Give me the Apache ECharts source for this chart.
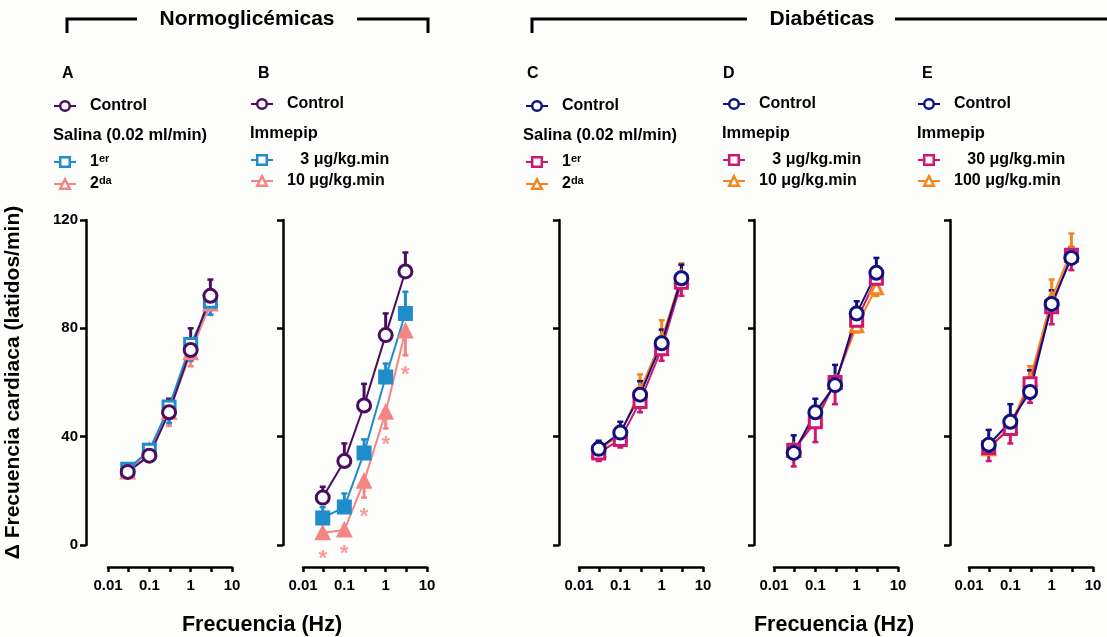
<!DOCTYPE html>
<html>
<head>
<meta charset="utf-8">
<script src="https://cdn.jsdelivr.net/npm/echarts@6/dist/echarts.min.js"></script>
<style>
html, body { margin: 0; background: #fdfdfb; }
#chart { width: 1107px; height: 637px; }
</style>
</head>
<body>
<div id="chart"></div>
<script>
// frecuencias de estimulación (Hz)
const freq = [0.03, 0.1, 0.3, 1, 3];

// A - normoglicémicas, salina
const aControl = [27, 33, 49, 72, 92];
const aControlErr = [2, 3, 5, 8, 6];
const aFirst = [28, 35, 51, 74, 90];
const aFirstErr = [2, 3, 6, 6, 5];
const aSecond = [27, 35, 49, 71, 89];
const aSecondErr = [2, 3, 5, 5, 4];

// B - normoglicémicas, immepip
const bControl = [17.5, 31, 51.5, 77.5, 101];
const bControlErr = [4, 6.5, 8, 8, 7];
const bLow = [10, 14, 34, 62, 85.5];
const bLowErr = [4, 5, 5, 5, 8];
const bHigh = [4.5, 5.5, 23.5, 49, 79];
const bHighErr = [2, 2, 6, 6, 9];
const bStars = [-3.3, -1.5, 12.3, 38.8, 64.6];

// C - diabéticas, salina
const cControl = [35.5, 41.5, 55.5, 74.5, 98.5];
const cControlErr = [3, 4, 5, 5, 5];
const cFirst = [34, 39, 53, 72.5, 97];
const cFirstErr = [3, 3, 4, 4.5, 5];
const cSecond = [35, 41, 57, 76, 99];
const cSecondErr = [3, 3, 6, 7, 5];

// D - diabéticas, immepip 3 / 10
const dControl = [34, 49, 59, 85.5, 100.5];
const dControlErr = [6.5, 5, 7.5, 4.5, 5.5];
const dLow = [35, 45.5, 60, 83, 98.5];
const dLowErr = [6, 7.5, 8, 2, 2];
const dHigh = [35, 47, 60, 81, 95];
const dHighErr = [3, 3, 3, 2.5, 3];

// E - diabéticas, immepip 30 / 100
const eControl = [37, 45.5, 56.5, 89, 106];
const eControlErr = [5.5, 6.5, 8, 5, 4];
const eLow = [36, 43, 59.5, 88, 107];
const eLowErr = [5, 5.5, 7, 6.5, 5.5];
const eHigh = [35.5, 44, 61, 91, 108.5];
const eHighErr = [3, 4, 5, 7, 6.5];

const FONT = "'Liberation Sans', Arial, Helvetica, sans-serif";
const PURPLE = '#4a0d5f', BLUE = '#1f8ccb', PINK = '#f48585';
const NAVY = '#10107e', MAGENTA = '#d0176f', ORANGE = '#f5861f';

const panels = [
  { axisX: 86, left: 108, legendX: 53, rows: [107, 162], groups: [
    { name: 'A-2', label: '{t|2}{sup|da}', data: aSecond, err: aSecondErr, dir: -1, color: PINK, symbol: 'triangle', filled: false },
    { name: 'A-1', label: '{t|1}{sup|er}', data: aFirst, err: aFirstErr, dir: -1, color: BLUE, symbol: 'rect', filled: false },
    { name: 'A-c', label: '{t|Control}', data: aControl, err: aControlErr, dir: 1, color: PURPLE, symbol: 'circle', filled: false }
  ] },
  { axisX: 283, left: 303, legendX: 250, rows: [105, 161], groups: [
    { name: 'B-10', label: '{t|10 μg/kg.min}', data: bHigh, err: bHighErr, dir: -1, color: PINK, symbol: 'triangle', filled: true },
    { name: 'B-3', label: '{t|   3 μg/kg.min}', data: bLow, err: bLowErr, dir: 1, color: BLUE, symbol: 'rect', filled: true },
    { name: 'B-c', label: '{t|Control}', data: bControl, err: bControlErr, dir: 1, color: PURPLE, symbol: 'circle', filled: false }
  ] },
  { axisX: 559, left: 579, legendX: 525, rows: [107, 162], groups: [
    { name: 'C-2', label: '{t|2}{sup|da}', data: cSecond, err: cSecondErr, dir: 1, color: ORANGE, symbol: 'triangle', filled: false },
    { name: 'C-1', label: '{t|1}{sup|er}', data: cFirst, err: cFirstErr, dir: -1, color: MAGENTA, symbol: 'rect', filled: false },
    { name: 'C-c', label: '{t|Control}', data: cControl, err: cControlErr, dir: 1, color: NAVY, symbol: 'circle', filled: false }
  ] },
  { axisX: 754, left: 774, legendX: 722, rows: [105, 161], groups: [
    { name: 'D-10', label: '{t|10 μg/kg.min}', data: dHigh, err: dHighErr, dir: -1, color: ORANGE, symbol: 'triangle', filled: false },
    { name: 'D-3', label: '{t|   3 μg/kg.min}', data: dLow, err: dLowErr, dir: -1, color: MAGENTA, symbol: 'rect', filled: false },
    { name: 'D-c', label: '{t|Control}', data: dControl, err: dControlErr, dir: 1, color: NAVY, symbol: 'circle', filled: false }
  ] },
  { axisX: 950, left: 969, legendX: 917, rows: [105, 161], groups: [
    { name: 'E-100', label: '{t|100 μg/kg.min}', data: eHigh, err: eHighErr, dir: 1, color: ORANGE, symbol: 'triangle', filled: false },
    { name: 'E-30', label: '{t|   30 μg/kg.min}', data: eLow, err: eLowErr, dir: -1, color: MAGENTA, symbol: 'rect', filled: false },
    { name: 'E-c', label: '{t|Control}', data: eControl, err: eControlErr, dir: 1, color: NAVY, symbol: 'circle', filled: false }
  ] }
];

const labelOf = {};
panels.forEach(p => p.groups.forEach(g => { labelOf[g.name] = g.label; }));

const axisLineStyle = { color: '#000', width: 2.5 };
const tickFont = { fontSize: 15, fontWeight: 'bold', color: '#000', fontFamily: FONT };

const grid = [], xAxis = [], yAxis = [], series = [], legend = [];

panels.forEach((p, i) => {
  grid.push({ left: p.left, top: 220, width: 124, height: 325 });
  // eje log con las etiquetas
  xAxis.push({
    type: 'log', logBase: 10, min: 0.01, max: 10, gridIndex: i, position: 'bottom', offset: 22,
    axisLine: { show: true, onZero: false, lineStyle: axisLineStyle },
    axisTick: { show: false },
    splitLine: { show: false },
    axisLabel: Object.assign({ margin: 11 }, tickFont)
  });
  // marcas cada media década (0.01, 0.03, 0.1 ... 10), solo ticks
  xAxis.push({
    type: 'value', min: -2, max: 1, interval: 0.5, gridIndex: i, position: 'bottom', offset: 22,
    axisLine: { show: false, onZero: false },
    axisTick: { show: true, length: 5, lineStyle: axisLineStyle },
    axisLabel: { show: false },
    splitLine: { show: false }
  });
  yAxis.push({
    type: 'value', min: 0, max: 120, interval: 40, gridIndex: i, position: 'left', offset: p.left - p.axisX,
    axisLine: { show: true, onZero: false, lineStyle: axisLineStyle },
    axisTick: { show: true, length: 6, lineStyle: axisLineStyle },
    splitLine: { show: false },
    axisLabel: Object.assign({ show: i === 0, margin: 8 }, tickFont),
    name: i === 0 ? 'Δ Frecuencia cardiaca (latidos/min)' : '',
    nameLocation: 'middle', nameGap: 62, nameRotate: 90,
    nameTextStyle: { fontSize: 21, fontWeight: 'bold', color: '#000', fontFamily: FONT }
  });

  const xi = i * 2;
  p.groups.forEach(g => {
    // barras de error (un solo sentido)
    series.push({
      type: 'custom', xAxisIndex: xi, yAxisIndex: i, z: 1, silent: true,
      data: freq.map((f, k) => [f, g.data[k], g.err[k]]),
      encode: { x: 0, y: 1 },
      renderItem: (params, api) => {
        const base = api.coord([api.value(0), api.value(1)]);
        const end = api.coord([api.value(0), api.value(1) + g.dir * api.value(2)]);
        return {
          type: 'group',
          children: [
            { type: 'line', shape: { x1: base[0], y1: base[1], x2: end[0], y2: end[1] }, style: { stroke: g.color, lineWidth: 3 } },
            { type: 'line', shape: { x1: end[0] - 3, y1: end[1], x2: end[0] + 3, y2: end[1] }, style: { stroke: g.color, lineWidth: 2.5 } }
          ]
        };
      }
    });
    series.push({
      type: 'line', name: g.name, xAxisIndex: xi, yAxisIndex: i, z: 3,
      data: freq.map((f, k) => [f, g.data[k]]),
      symbol: g.symbol,
      symbolSize: g.symbol === 'circle' ? 13 : 12,
      itemStyle: { color: g.filled ? g.color : '#fff', borderColor: g.color, borderWidth: 3 },
      lineStyle: { color: g.color, width: 2 }
    });
  });

  const rich = {
    t: { fontSize: 16, fontWeight: 'bold', color: '#000', fontFamily: FONT, lineHeight: 18, padding: [0, 0, 0, 9] },
    sup: { fontSize: 11, fontWeight: 'bold', color: '#000', fontFamily: FONT, lineHeight: 8, verticalAlign: 'top' }
  };
  const legendBase = {
    orient: 'vertical', padding: 0, itemWidth: 22, itemHeight: 12, itemGap: 5,
    selectedMode: false, formatter: n => labelOf[n],
    textStyle: { rich: rich },
    itemStyle: { borderWidth: 2.5 }
  };
  const [second, first, ctrl] = p.groups;
  legend.push(Object.assign({}, legendBase, { left: p.legendX, top: p.rows[0] - 9, data: [ctrl.name] }));
  legend.push(Object.assign({}, legendBase, {
    left: p.legendX, top: p.rows[1] - 9,
    data: [first, second].map(g => ({ name: g.name, itemStyle: { color: '#fff' } }))
  }));
});

// asteriscos de significancia (panel B)
series.push({
  type: 'scatter', xAxisIndex: 2, yAxisIndex: 1, silent: true, clip: false, z: 4,
  data: freq.map((f, k) => [f, bStars[k]]),
  symbol: 'circle', symbolSize: 1, itemStyle: { color: 'transparent' },
  label: { show: true, position: 'inside', formatter: '*', color: PINK, fontSize: 22, fontWeight: 'bold', fontFamily: FONT, offset: [0, 5] }
});

const text = (x, y, s, size, align) => ({
  type: 'text', x: x, y: y, silent: true,
  style: {
    text: s, fill: '#000', font: 'bold ' + size + 'px ' + FONT,
    align: align || 'left', verticalAlign: 'middle',
    textAlign: align || 'left', textVerticalAlign: 'middle'
  }
});
const bracket = pts => ({ type: 'polyline', silent: true, shape: { points: pts }, style: { stroke: '#000', lineWidth: 3, fill: null } });

const graphic = [
  bracket([[67, 33], [67, 19], [137, 19]]),
  bracket([[357, 19], [428, 19], [428, 33]]),
  bracket([[532, 33], [532, 19], [747, 19]]),
  bracket([[895, 19], [1107, 19]]),
  text(247, 19, 'Normoglicémicas', 21, 'center'),
  text(822, 19, 'Diabéticas', 21, 'center'),
  text(62, 74, 'A', 16), text(258, 74, 'B', 16), text(527, 74, 'C', 16),
  text(723, 74, 'D', 16), text(922, 74, 'E', 16),
  text(53, 135, 'Salina (0.02 ml/min)', 16.5), text(523, 135, 'Salina (0.02 ml/min)', 16.5),
  text(250, 133, 'Immepip', 16.5), text(722, 133, 'Immepip', 16.5), text(917, 133, 'Immepip', 16.5),
  text(262, 625, 'Frecuencia (Hz)', 21.5, 'center'),
  text(834, 625, 'Frecuencia (Hz)', 21.5, 'center')
];

const chart = echarts.init(document.getElementById('chart'));
chart.setOption({
  backgroundColor: '#fdfdfb',
  animation: false,
  grid: grid, xAxis: xAxis, yAxis: yAxis, legend: legend,
  series: series, graphic: graphic
});
</script>
</body>
</html>
